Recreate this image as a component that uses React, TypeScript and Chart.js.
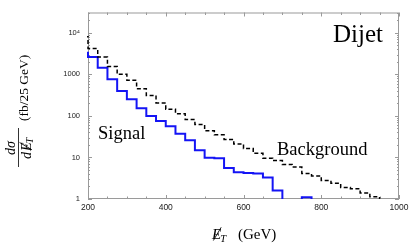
import { useEffect, useRef } from 'react';
import { Chart, registerables } from 'chart.js';

Chart.register(...registerables);

// Bin lower edges (GeV), bin width 25 GeV
const binEdges = [
  175, 200, 225, 250, 275, 300, 325, 350, 375, 400, 425, 450, 475, 500, 525, 550,
  575, 600, 625, 650, 675, 700, 725, 750, 775, 800, 825, 850, 875, 900, 925, 950,
];
const binWidth = 25;

// dσ/dMET (fb / 25 GeV) per bin, starting at binEdges[0]
const signalValues = [
  3300, 2600, 1450, 760, 400, 252, 152, 100, 75, 56, 37, 26, 15, 9.8, 9.6, 5.6,
  4.4, 4.2, 4.1, 3.3, 1.6, 0.5, 0.5, 1.1, 0.5,
];
const backgroundValues = [
  8000, 4200, 2600, 1550, 1000, 720, 450, 310, 205, 145, 113, 82, 62, 44, 35, 27,
  21, 16.4, 12.6, 9.6, 8.4, 6.8, 5.9, 4.1, 3.6, 2.8, 2.4, 1.9, 1.77, 1.4, 1.13, 0.5,
];

const xTicks = [200, 400, 600, 800, 1000];
const xTickLabels = ['200', '400', '600', '800', '1000'];
const yTicks = [1, 10, 100, 1000, 10000];
const yTickLabels = ['1', '10', '100', '1000', '10\u2074'];

const X_MIN = 200;
const X_MAX = 1000;
const Y_MIN = 1;
const Y_MAX = 30800;

const SERIF = '"Liberation Serif", "Times New Roman", serif';
const SANS = '"Liberation Sans", Arial, sans-serif';
const FRAME = '#9a9a9a';

function stepPoints(values: number[]) {
  const pts = values.map((v, i) => ({ x: binEdges[i], y: v }));
  pts.push({ x: binEdges[values.length - 1] + binWidth, y: values[values.length - 1] });
  return pts;
}

function drawSlashE(ctx: CanvasRenderingContext2D, x: number, baseline: number, size: number) {
  ctx.font = `italic ${size}px ${SERIF}`;
  ctx.fillText('E', x, baseline);
  const w = ctx.measureText('E').width;
  ctx.save();
  ctx.beginPath();
  ctx.lineWidth = 0.9;
  ctx.strokeStyle = ctx.fillStyle as string;
  ctx.moveTo(x + w * 0.15, baseline + size * 0.1);
  ctx.lineTo(x + w * 1.0, baseline - size * 0.78);
  ctx.stroke();
  ctx.restore();
  return w;
}

const framePlugin = {
  id: 'frameAndText',
  beforeDatasetsDraw(chart: any) {
    const ctx: CanvasRenderingContext2D = chart.ctx;
    const { left, right, top, bottom } = chart.chartArea;
    const xs = chart.scales.x;
    const ys = chart.scales.y;
    ctx.save();
    ctx.strokeStyle = FRAME;
    ctx.lineWidth = 1;
    ctx.strokeRect(left + 0.5, top + 0.5, right - left - 1, bottom - top - 1);
    ctx.beginPath();
    for (let v = X_MIN; v <= X_MAX; v += 50) {
      const px = Math.round(xs.getPixelForValue(v)) + 0.5;
      const len = v % 200 === 0 ? 4 : 2.5;
      ctx.moveTo(px, bottom);
      ctx.lineTo(px, bottom - len);
      ctx.moveTo(px, top);
      ctx.lineTo(px, top + len);
    }
    for (let d = 1; d <= 10000; d *= 10) {
      for (let m = 1; m <= 9; m++) {
        const v = d * m;
        if (v < Y_MIN || v > Y_MAX) continue;
        const py = Math.round(ys.getPixelForValue(v)) + 0.5;
        const len = m === 1 ? 4 : 2;
        ctx.moveTo(left, py);
        ctx.lineTo(left + len, py);
        ctx.moveTo(right, py);
        ctx.lineTo(right - len, py);
      }
    }
    ctx.stroke();
    ctx.restore();
  },
  afterDraw(chart: any) {
    const ctx: CanvasRenderingContext2D = chart.ctx;
    const { left, right, top } = chart.chartArea;
    ctx.save();
    ctx.fillStyle = '#000';
    ctx.textAlign = 'left';
    ctx.textBaseline = 'alphabetic';
    ctx.font = `25px ${SERIF}`;
    ctx.fillText('Dijet', right - 66, top + 29);
    ctx.font = `18.5px ${SERIF}`;
    ctx.fillText('Signal', left + 10, top + 126);
    ctx.fillText('Background', left + 189, top + 142);

    // x axis title
    const xb = 239;
    let cx = 212;
    cx += drawSlashE(ctx, cx, xb, 15);
    ctx.font = `italic 10.5px ${SERIF}`;
    ctx.fillText('T', cx - 1, xb + 3);
    cx += ctx.measureText('T').width + 11;
    ctx.font = `15px ${SERIF}`;
    ctx.fillText('(GeV)', cx, xb);

    // y axis title (rotated)
    ctx.save();
    ctx.translate(0, 168);
    ctx.rotate(-Math.PI / 2);
    const fracW = 40;
    const fc = fracW / 2;
    ctx.font = `italic 14px ${SERIF}`;
    const numW = ctx.measureText('d\u03c3').width;
    ctx.fillText('d\u03c3', fc - numW / 2, 15);
    ctx.beginPath();
    ctx.lineWidth = 0.8;
    ctx.strokeStyle = '#000';
    ctx.moveTo(1, 18.5);
    ctx.lineTo(fracW, 18.5);
    ctx.stroke();
    ctx.font = `italic 14px ${SERIF}`;
    const dW = ctx.measureText('d').width;
    const eW = ctx.measureText('E').width;
    ctx.font = `italic 10px ${SERIF}`;
    const tW = ctx.measureText('T').width;
    const denW = dW + 1 + eW + tW;
    let du = fc - denW / 2;
    ctx.font = `italic 14px ${SERIF}`;
    ctx.fillText('d', du, 30.5);
    du += dW + 1;
    drawSlashE(ctx, du, 30.5, 14);
    du += eW;
    ctx.font = `italic 10px ${SERIF}`;
    ctx.fillText('T', du - 1, 33);
    ctx.font = `13.5px ${SERIF}`;
    ctx.fillText('(fb/25 GeV)', 47, 28);
    ctx.restore();

    ctx.restore();
  },
};

export default function App() {
  const canvasRef = useRef<HTMLCanvasElement | null>(null);

  useEffect(() => {
    if (!canvasRef.current) return;
    const chart = new Chart(canvasRef.current, {
      type: 'line',
      data: {
        datasets: [
          {
            label: 'Background',
            data: stepPoints(backgroundValues),
            borderColor: '#000000',
            borderWidth: 1.5,
            borderDash: [4, 2.5],
            stepped: true,
            pointRadius: 0,
            fill: false,
            clip: { left: 1, top: 0, right: 0, bottom: 0 },
          },
          {
            label: 'Signal',
            data: stepPoints(signalValues),
            borderColor: '#1414f5',
            borderWidth: 2,
            stepped: true,
            pointRadius: 0,
            fill: false,
            clip: { left: 1, top: 0, right: 0, bottom: 0 },
          },
        ],
      },
      options: {
        animation: false,
        responsive: false,
        maintainAspectRatio: false,
        layout: { padding: { left: 0, right: 16, top: 6, bottom: 0 } },
        plugins: { legend: { display: false }, tooltip: { enabled: false } },
        scales: {
          x: {
            type: 'linear',
            min: X_MIN,
            max: X_MAX,
            grid: { display: false, drawTicks: false },
            border: { display: false },
            afterBuildTicks: (s: any) => {
              s.ticks = xTicks.map((v) => ({ value: v }));
            },
            afterFit: (s: any) => {
              s.height = 47;
            },
            ticks: {
              maxRotation: 0,
              autoSkip: false,
              padding: 4,
              color: '#222',
              font: { family: SANS, size: 8.5 },
              callback: (v: any) => {
                const i = xTicks.indexOf(Number(v));
                return i >= 0 ? xTickLabels[i] : '';
              },
            },
          },
          y: {
            type: 'logarithmic',
            min: Y_MIN,
            max: Y_MAX,
            grid: { display: false, drawTicks: false },
            border: { display: false },
            afterBuildTicks: (s: any) => {
              s.ticks = yTicks.map((v) => ({ value: v }));
            },
            afterFit: (s: any) => {
              s.width = 88;
            },
            ticks: {
              autoSkip: false,
              padding: 8,
              color: '#222',
              font: { family: SANS, size: 7.5 },
              callback: (v: any) => {
                const i = yTicks.indexOf(Number(v));
                return i >= 0 ? yTickLabels[i] : '';
              },
            },
          },
        },
      },
      plugins: [framePlugin],
    });
    return () => chart.destroy();
  }, []);

  return (
    <div style={{ position: 'absolute', left: 0, top: 0, width: 415, height: 246, background: '#fff' }}>
      <canvas ref={canvasRef} width={415} height={246} style={{ width: 415, height: 246, display: 'block' }} />
    </div>
  );
}
